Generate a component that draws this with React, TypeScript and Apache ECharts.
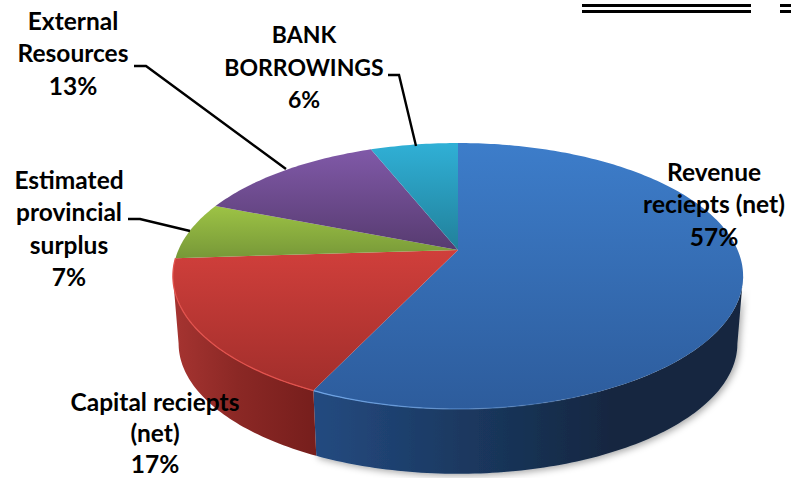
import React, { useEffect, useRef } from "react";
import * as echarts from "echarts";

// Budget receipts by source, in percent
const categories = [
  "Revenue\nreciepts (net)",
  "Capital reciepts\n(net)",
  "Estimated\nprovincial\nsurplus",
  "External\nResources",
  "BANK\nBORROWINGS",
];
const shares = [57, 17, 7, 13, 6];

// Face colours per slice: light and dark end of the vertical shading
const faceTop = ["#3d7dca", "#d03f3b", "#9dc345", "#8059a8", "#30b0d6"];
const faceBottom = ["#2d5c9c", "#a12e2b", "#779838", "#573b70", "#21809a"];
// Side wall colours: left, middle and right of the horizontal shading
const wallLeft = ["#244a80", "#a63431"];
const wallMiddle = ["#1b3a63", "#8b2825"];
const wallRight = ["#14263f", "#761e1c"];
const rimLight = ["#6ea4e6", "#e2524d"];

// Projection of the pie: centre, radii and perspective strength
const CX = 458;
const CY = 250;
const RX = 279.6;
const RY = 127.9;
const PERSPECTIVE = 0.1955;
const WALL_DROP = 68;
const WALL_SCALE = 0.98;

// Anchor of each label block (centre x, middle y of its first line), font size, line step
const labelAnchors = [
  [714, 171],
  [155, 401],
  [69, 179],
  [73, 20],
  [304, 34],
];
const labelSizes = [24.5, 24.5, 24.5, 24.5, 23];
const labelSteps = [32.6, 31.2, 32.6, 32.6, 32.6];

const leaders = [
  [[128, 219], [140, 219], [190, 231]],
  [[134, 66], [146, 66], [286, 169]],
  [[388, 75], [399, 75], [416, 146]],
];

type Pt = [number, number];

function rimPoint(deg: number): Pt {
  const t = (deg * Math.PI) / 180;
  const u = Math.sin(t);
  const v = -Math.cos(t);
  const w = 1 - PERSPECTIVE * v;
  return [CX + (RX * u) / w, CY + (RY * v) / w];
}

function lowerPoint(deg: number): Pt {
  const [x, y] = rimPoint(deg);
  return [CX + WALL_SCALE * (x - CX), CY + WALL_DROP + WALL_SCALE * (y - CY)];
}

function arcPoints(a: number, b: number, fn: (d: number) => Pt): Pt[] {
  const out: Pt[] = [];
  const n = Math.max(2, Math.ceil(Math.abs(b - a)));
  for (let i = 0; i <= n; i++) out.push(fn(a + ((b - a) * i) / n));
  return out;
}

// The wall is visible between the two points where the rim turns back
const VISIBLE_FROM = (Math.acos(-PERSPECTIVE) * 180) / Math.PI;
const VISIBLE_TO = 360 - VISIBLE_FROM;

const total = shares.reduce((s, v) => s + v, 0);
const starts = shares.map((_, i) =>
  (shares.slice(0, i).reduce((s, v) => s + v, 0) / total) * 360
);

function renderSlice(params: any, api: any) {
  const i = params.dataIndex;
  const start = starts[i];
  const end = start + (api.value(0) / total) * 360;
  const children: any[] = [];

  const a = Math.max(start, VISIBLE_FROM);
  const b = Math.min(end, VISIBLE_TO);
  const hasWall = b > a;
  const isFirst = i === 0;
  if (hasWall) {
    const upper = arcPoints(a, b, rimPoint);
    const lower = arcPoints(a, b, lowerPoint).reverse();
    const xs = upper.concat(lower).map((p) => p[0]);
    children.push({
      type: "polygon",
      shape: { points: upper.concat(lower) },
      style: {
        fill: new echarts.graphic.LinearGradient(
          Math.min(...xs),
          0,
          isFirst ? 620 : Math.max(...xs),
          0,
          [
            { offset: 0, color: wallLeft[i] },
            { offset: 0.45, color: wallMiddle[i] },
            { offset: 1, color: wallRight[i] },
          ],
          true
        ),
        shadowBlur: isFirst ? 7 : 0,
        shadowOffsetX: isFirst ? 2 : 0,
        shadowOffsetY: isFirst ? 2 : 0,
        shadowColor: "rgba(0,0,0,0.35)",
      },
    });
  }

  children.push({
    type: "polygon",
    shape: { points: [[CX, CY] as Pt].concat(arcPoints(start, end, rimPoint)) },
    style: {
      fill: new echarts.graphic.LinearGradient(0, 0, 0, 1, [
        { offset: 0, color: faceTop[i] },
        { offset: 1, color: faceBottom[i] },
      ]),
    },
  });

  if (hasWall) {
    children.push({
      type: "polyline",
      shape: { points: arcPoints(isFirst ? Math.max(a, 135) : a, end, rimPoint) },
      style: {
        fill: "none",
        lineWidth: 1.3,
        stroke: isFirst
          ? new echarts.graphic.LinearGradient(
              320,
              0,
              620,
              0,
              [
                { offset: 0, color: rimLight[i] },
                { offset: 1, color: "rgba(110,164,230,0)" },
              ],
              true
            )
          : rimLight[i],
      },
    });
  }
  return { type: "group", children };
}

export default function App() {
  const ref = useRef<HTMLDivElement>(null);
  useEffect(() => {
    const chart = echarts.init(ref.current!, undefined, { renderer: "svg" });
    // One text element per line, so the last line stays inside the canvas
    const labelLines = categories.flatMap((c, i) =>
      `${c}\n${shares[i]}%`.split("\n").map((text, k) => ({
        type: "text",
        z: 30,
        x: labelAnchors[i][0],
        y: labelAnchors[i][1] + k * labelSteps[i],
        style: {
          text,
          fill: "#000",
          font: `bold ${labelSizes[i]}px Lato, "Open Sans", sans-serif`,
          align: "center",
          verticalAlign: "middle",
        },
      }))
    );
    chart.setOption({
      animation: false,
      backgroundColor: "#ffffff",
      series: [
        {
          type: "custom",
          coordinateSystem: "none",
          silent: true,
          clip: false,
          data: shares.map((v) => [v]),
          renderItem: renderSlice,
        },
      ],
      graphic: [
        { type: "rect", z: 20, shape: { x: 582, y: 4, width: 169, height: 3 }, style: { fill: "#000" } },
        { type: "rect", z: 20, shape: { x: 582, y: 10, width: 169, height: 3 }, style: { fill: "#000" } },
        { type: "rect", z: 20, shape: { x: 780, y: 4, width: 11, height: 3 }, style: { fill: "#000" } },
        { type: "rect", z: 20, shape: { x: 780, y: 10, width: 11, height: 3 }, style: { fill: "#000" } },
        ...leaders.map((pts) => ({
          type: "polyline",
          z: 20,
          shape: { points: pts },
          style: { fill: "none", stroke: "#000", lineWidth: 2.4 },
        })),
        ...labelLines,
      ],
    });
    return () => chart.dispose();
  }, []);
  return (
    <div
      ref={ref}
      style={{ position: "absolute", left: 0, top: 0, width: 791, height: 478 }}
    />
  );
}
